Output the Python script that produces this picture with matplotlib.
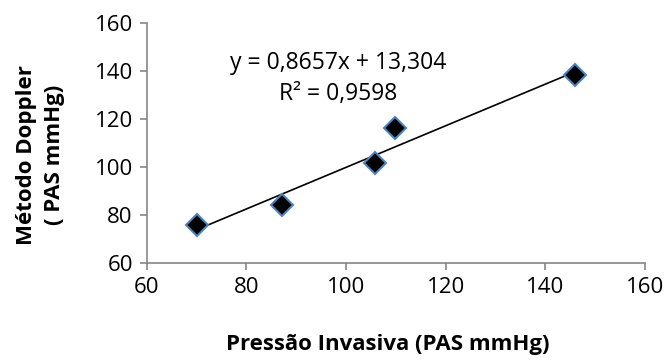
import numpy as np
import matplotlib
matplotlib.use('Agg')
import matplotlib.pyplot as plt

plt.rcParams['font.family'] = ['Open Sans', 'DejaVu Sans']

# data
invasiva = [70, 87.2, 105.8, 109.8, 146]
doppler = [76, 84.2, 101.8, 116.2, 138.5]
slope = 0.8657
intercept = 13.304
equation = 'y = 0,8657x + 13,304'
r2_text = 'R² = 0,9598'
ticks = [60, 80, 100, 120, 140, 160]

fig = plt.figure(figsize=(6.67, 3.63), dpi=100)
ax = fig.add_axes([0.220, 0.275, 0.747, 0.662])

# trendline
xt = np.array([min(invasiva), max(invasiva)])
ax.plot(xt, slope * xt + intercept, color='black', lw=1.2, zorder=2)

ax.plot(invasiva, doppler, linestyle='none', marker='D', markersize=11.5,
        markerfacecolor='black', markeredgecolor='#4f81bd', markeredgewidth=1.5, zorder=3)

ax.text(98.4, 143.3, equation, ha='center', va='center', fontsize=16.5)
ax.text(98.4, 130.2, r2_text, ha='center', va='center', fontsize=16.5)

ax.set_xlim(60, 160)
ax.set_ylim(60, 160)
ax.set_xticks(ticks)
ax.set_yticks(ticks)
ax.tick_params(labelsize=16, length=5, width=1.2, color='#868686', direction='out', pad=5)

for s in ['top', 'right']:
    ax.spines[s].set_visible(False)
for s in ['left', 'bottom']:
    ax.spines[s].set_color('#868686')
    ax.spines[s].set_linewidth(1.2)

fig.text(0.582, 0.05, 'Pressão Invasiva (PAS mmHg)', ha='center', va='center',
         fontsize=16, fontweight='bold')
fig.text(0.061, 0.573, 'Método Doppler\n( PAS mmHg)', ha='center', va='center',
         fontsize=16, fontweight='bold', rotation=90, linespacing=1.45)

fig.savefig('out.png', dpi=100)
